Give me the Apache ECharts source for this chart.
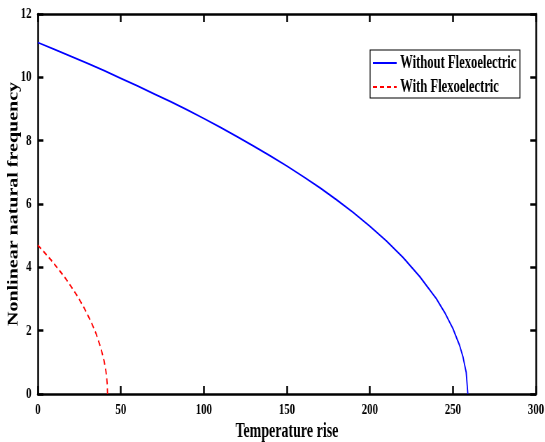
<!DOCTYPE html>
<html><head><meta charset="utf-8">
<script src="https://cdn.jsdelivr.net/npm/echarts@6/dist/echarts.min.js"></script>
<style>
html,body{margin:0;padding:0;background:#fff;overflow:hidden;width:545px;height:442px}
#wrap{width:545px;height:442px;overflow:hidden;position:relative}
#c{width:779px;height:442px;transform:scaleX(0.6996);transform-origin:0 0;position:absolute;left:0;top:0}
</style>
</head><body><div id="wrap"><div id="c"></div></div>
<script>
const withoutT = [0,10,20,30,40,50,60,70,80,90,100,110,120,130,140,150,160,170,180,190,200,210,220,230,240,245,250,254,256,258,259];
const withoutW = [11.10,10.88,10.66,10.44,10.21,9.97,9.73,9.48,9.23,8.97,8.70,8.42,8.13,7.83,7.52,7.20,6.86,6.51,6.13,5.73,5.30,4.83,4.31,3.71,3.01,2.58,2.07,1.54,1.19,0.69,0];
const withT = [0,4,8,12,16,20,24,28,32,35,38,40,41,41.5,41.8,42];
const withW = [4.70,4.47,4.23,3.97,3.70,3.40,3.08,2.71,2.29,1.92,1.45,1.03,0.73,0.51,0.32,0];
const xTicks = [0,50,100,150,200,250,300];
const yTicks = [0,2,4,6,8,10,12];
const names = ['Without Flexoelectric','With Flexoelectric'];

const font = 'Liberation Serif';
const axisLine = {show:true, onZero:false, lineStyle:{color:'#000', width:2.5}};
const tick = {show:true, inside:true, length:8, lineStyle:{color:'#000', width:2.5}};
const lbl = {fontFamily:font, fontWeight:'bold', fontSize:15.5, color:'#000'};

const chart = echarts.init(document.getElementById('c'), null, {renderer:'canvas', width:779, height:442});
chart.setOption({
  animation:false,
  backgroundColor:'#fff',
  grid:{left:54, right:13, top:14, bottom:48, containLabel:false, outerBoundsMode:'none'},
  legend:{
    orient:'vertical', left:529, top:50, itemWidth:34, itemHeight:14, itemGap:6,
    padding:[4,5,2,3], borderColor:'#000', borderWidth:1.2, backgroundColor:'#fff',
    itemStyle:{opacity:0},
    textStyle:{fontFamily:font, fontWeight:'bold', fontSize:18, color:'#000'},
    data:names
  },
  xAxis:[
    {type:'value', min:xTicks[0], max:xTicks[xTicks.length-1], interval:50, position:'bottom',
     axisLine, axisTick:tick, splitLine:{show:false},
     axisLabel:Object.assign({margin:8}, lbl),
     name:'Temperature rise', nameLocation:'middle', nameGap:28, nameMoveOverlap:false,
     nameTextStyle:{fontFamily:font, fontWeight:'bold', fontSize:20, color:'#000'}},
    {type:'value', min:0, max:300, interval:50, position:'top',
     axisLine, axisTick:tick, axisLabel:{show:false}, splitLine:{show:false}}
  ],
  yAxis:[
    {type:'value', min:yTicks[0], max:yTicks[yTicks.length-1], interval:2, position:'left',
     axisLine, axisTick:tick, splitLine:{show:false},
     axisLabel:Object.assign({margin:9}, lbl),
     name:'Nonlinear natural frequency', nameLocation:'middle', nameGap:24, nameMoveOverlap:false,
     nameTextStyle:{fontFamily:font, fontWeight:'bold', fontSize:20, color:'#000'}},
    {type:'value', min:0, max:12, interval:2, position:'right',
     axisLine, axisTick:tick, axisLabel:{show:false}, splitLine:{show:false}}
  ],
  series:[
    {name:names[0], type:'line', symbol:'none', data:withoutT.map((t,i)=>[t,withoutW[i]]),
     lineStyle:{color:'#0000ff', width:1.8}, itemStyle:{color:'#0000ff'}},
    {name:names[1], type:'line', symbol:'none', data:withT.map((t,i)=>[t,withW[i]]),
     lineStyle:{color:'#ff0000', width:1.8, type:[6,4]}, itemStyle:{color:'#ff0000'}}
  ]
});
</script></body></html>
